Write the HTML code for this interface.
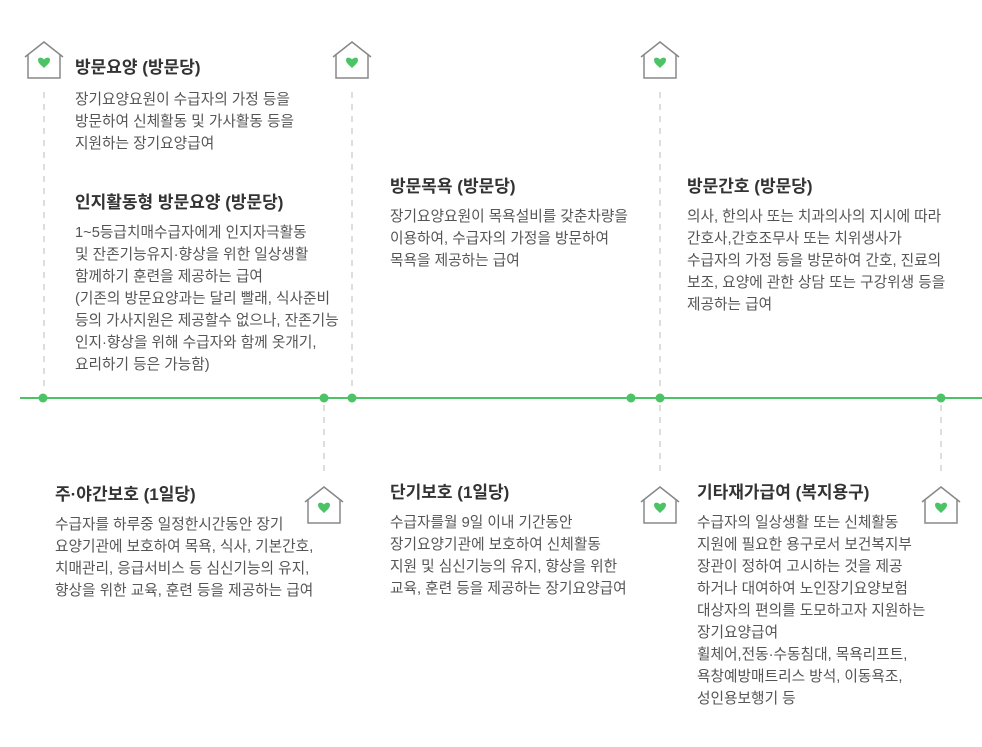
<!DOCTYPE html>
<html><head><meta charset="utf-8"><style>
body{margin:0;width:982px;height:747px;background:#fff;position:relative;overflow:hidden;font-family:"Liberation Sans","Noto Sans CJK KR",sans-serif}
.t{position:absolute;font-size:17px;font-weight:bold;color:#333;line-height:22px;white-space:nowrap}
.b{position:absolute;font-size:14.7px;color:#555;line-height:22px;white-space:nowrap}
svg{position:absolute;left:0;top:0}
</style></head><body>
<svg width="982" height="747">
<g stroke="#d4d4d4" stroke-width="1.5" stroke-dasharray="6,6">
<line x1="44" y1="92" x2="44" y2="392"/>
<line x1="352" y1="92" x2="352" y2="392"/>
<line x1="660" y1="92" x2="660" y2="392"/>
<line x1="324" y1="405" x2="324" y2="474"/>
<line x1="660" y1="405" x2="660" y2="474"/>
<line x1="941" y1="405" x2="941" y2="474"/>
</g>
<line x1="20" y1="398" x2="982" y2="398" stroke="#4cc466" stroke-width="2"/>
<g fill="#4cc466">
<circle cx="43" cy="398" r="4.5"/><circle cx="324" cy="398" r="4.5"/><circle cx="352" cy="398" r="4.5"/>
<circle cx="631" cy="398" r="4.5"/><circle cx="660" cy="398" r="4.5"/><circle cx="941" cy="398" r="4.5"/>
</g>
<defs><g id="h"><path d="M-19,15 L0,0 L19,15" fill="none" stroke="#888" stroke-width="1.5"/><path d="M-16,12 V36 H16 V12" fill="none" stroke="#888" stroke-width="1.5"/><path d="M0,26 C-3,23 -6,21 -6,18 C-6,15 -2,15 0,17.5 C2,15 6,15 6,18 C6,21 3,23 0,26Z" fill="#4cc466"/></g></defs>
<use href="#h" x="44" y="42"/><use href="#h" x="352" y="42"/><use href="#h" x="660" y="42"/>
<use href="#h" x="324" y="487"/><use href="#h" x="660" y="487"/><use href="#h" x="941" y="487"/>
</svg>
<div class="t" style="left:75px;top:57px">방문요양 (방문당)</div>
<div class="b" style="left:75px;top:89px">장기요양요원이 수급자의 가정 등을<br>방문하여 신체활동 및 가사활동 등을<br>지원하는 장기요양급여</div>
<div class="t" style="left:75px;top:192px">인지활동형 방문요양 (방문당)</div>
<div class="b" style="left:75px;top:222px">1~5등급치매수급자에게 인지자극활동<br>및 잔존기능유지·향상을 위한 일상생활<br>함께하기 훈련을 제공하는 급여<br>(기존의 방문요양과는 달리 빨래, 식사준비<br>등의 가사지원은 제공할수 없으나, 잔존기능<br>인지·향상을 위해 수급자와 함께 옷개기,<br>요리하기 등은 가능함)</div>
<div class="t" style="left:390px;top:176px">방문목욕 (방문당)</div>
<div class="b" style="left:390px;top:206px">장기요양요원이 목욕설비를 갖춘차량을<br>이용하여, 수급자의 가정을 방문하여<br>목욕을 제공하는 급여</div>
<div class="t" style="left:687px;top:176px">방문간호 (방문당)</div>
<div class="b" style="left:687px;top:206px">의사, 한의사 또는 치과의사의 지시에 따라<br>간호사,간호조무사 또는 치위생사가<br>수급자의 가정 등을 방문하여 간호, 진료의<br>보조, 요양에 관한 상담 또는 구강위생 등을<br>제공하는 급여</div>
<div class="t" style="left:55px;top:484px">주·야간보호 (1일당)</div>
<div class="b" style="left:55px;top:514px">수급자를 하루중 일정한시간동안 장기<br>요양기관에 보호하여 목욕, 식사, 기본간호,<br>치매관리, 응급서비스 등 심신기능의 유지,<br>향상을 위한 교육, 훈련 등을 제공하는 급여</div>
<div class="t" style="left:390px;top:482px">단기보호 (1일당)</div>
<div class="b" style="left:390px;top:512px">수급자를월 9일 이내 기간동안<br>장기요양기관에 보호하여 신체활동<br>지원 및 심신기능의 유지, 향상을 위한<br>교육, 훈련 등을 제공하는 장기요양급여</div>
<div class="t" style="left:697px;top:482px">기타재가급여 (복지용구)</div>
<div class="b" style="left:697px;top:512px">수급자의 일상생활 또는 신체활동<br>지원에 필요한 용구로서 보건복지부<br>장관이 정하여 고시하는 것을 제공<br>하거나 대여하여 노인장기요양보험<br>대상자의 편의를 도모하고자 지원하는<br>장기요양급여<br>휠체어,전동·수동침대, 목욕리프트,<br>욕창예방매트리스 방석, 이동욕조,<br>성인용보행기 등</div>
</body></html>
